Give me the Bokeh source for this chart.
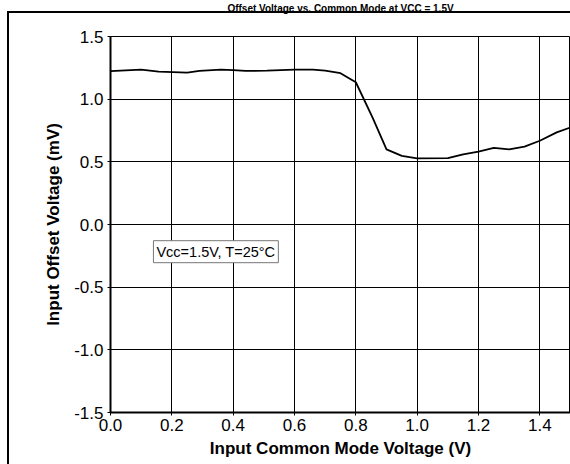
from bokeh.plotting import figure
from bokeh.models import FixedTicker, PrintfTickFormatter, Label, Range1d, Title
from bokeh.embed import file_html
from bokeh.resources import INLINE

# data
x_vals = [0.0, 0.1, 0.157, 0.25, 0.29, 0.36, 0.4, 0.44, 0.51, 0.6, 0.66, 0.70, 0.75,
          0.8, 0.855, 0.9, 0.95, 1.0, 1.1, 1.15, 1.2, 1.25, 1.3, 1.35, 1.4, 1.455, 1.5]
y_vals = [1.223, 1.236, 1.22, 1.212, 1.225, 1.235, 1.232, 1.225, 1.228, 1.235, 1.235, 1.228, 1.207,
          1.135, 0.85, 0.60, 0.548, 0.527, 0.529, 0.56, 0.582, 0.612, 0.60, 0.622, 0.668, 0.735, 0.774]
x_ticks = [0.0, 0.2, 0.4, 0.6, 0.8, 1.0, 1.2, 1.4]
y_ticks = [-1.5, -1.0, -0.5, 0.0, 0.5, 1.0, 1.5]
title_text = "Offset Voltage vs. Common Mode at VCC = 1.5V"

FONT = "Liberation Sans"

p = figure(width=570, height=464, x_range=Range1d(0, 1.5), y_range=Range1d(-1.5, 1.5),
           output_backend="svg", toolbar_location=None,
           min_border_left=110, min_border_right=0, min_border_top=36, min_border_bottom=52)
p.background_fill_color = "white"
p.border_fill_color = None
p.outline_line_color = "black"
p.outline_line_width = 1
# outer border of the reference image, drawn behind the transparent plot border area
p.styles = {"background": "linear-gradient(#000,#000) 7px 11px / 2px 100% no-repeat, "
                          "linear-gradient(#000,#000) 7px 11px / 100% 2px no-repeat, #fff"}

# spacer between the frame and the title, so the title sits above the border line
p.add_layout(Title(text=" ", text_font=FONT, text_font_size="10px", standoff=8), "above")

p.title.text = title_text
p.title.align = "center"
p.title.vertical_align = "top"
p.title.text_font = FONT
p.title.text_font_size = "10px"
p.title.text_font_style = "bold"
p.title.text_color = "black"
p.title.standoff = 0

p.line(x_vals, y_vals, line_color="black", line_width=1.8)

p.xaxis.ticker = FixedTicker(ticks=x_ticks)
p.yaxis.ticker = FixedTicker(ticks=y_ticks)
p.axis.formatter = PrintfTickFormatter(format="%.1f")
p.axis.axis_line_color = "black"
p.axis.axis_line_width = 2
p.axis.major_tick_line_color = "black"
p.axis.major_tick_out = 3
p.axis.major_tick_in = 0
p.axis.minor_tick_line_color = None
p.axis.major_label_text_font = FONT
p.axis.major_label_text_font_size = "17px"
p.axis.major_label_text_color = "black"
p.axis.axis_label_text_font = FONT
p.axis.axis_label_text_font_style = "bold"
p.axis.axis_label_text_font_size = "17px"
p.axis.axis_label_text_color = "black"
p.xaxis.axis_label = "Input Common Mode Voltage (V)"
p.yaxis.axis_label = "Input Offset Voltage (mV)"
p.xaxis.major_label_standoff = 3
p.yaxis.major_label_standoff = 4
p.xaxis.axis_label_standoff = 5
p.yaxis.axis_label_standoff = 8

p.grid.grid_line_color = "black"
p.grid.grid_line_width = 1

# annotation box
p.add_layout(Label(x=0.14, y=-0.217, text="Vcc=1.5V, T=25°C", text_align="left",
                   text_baseline="middle", text_font=FONT, text_font_size="14.5px",
                   text_color="black", border_line_color="#777777", border_line_width=1,
                   background_fill_color="white", padding=3))

open("out.html", "w").write(file_html(p, INLINE))
